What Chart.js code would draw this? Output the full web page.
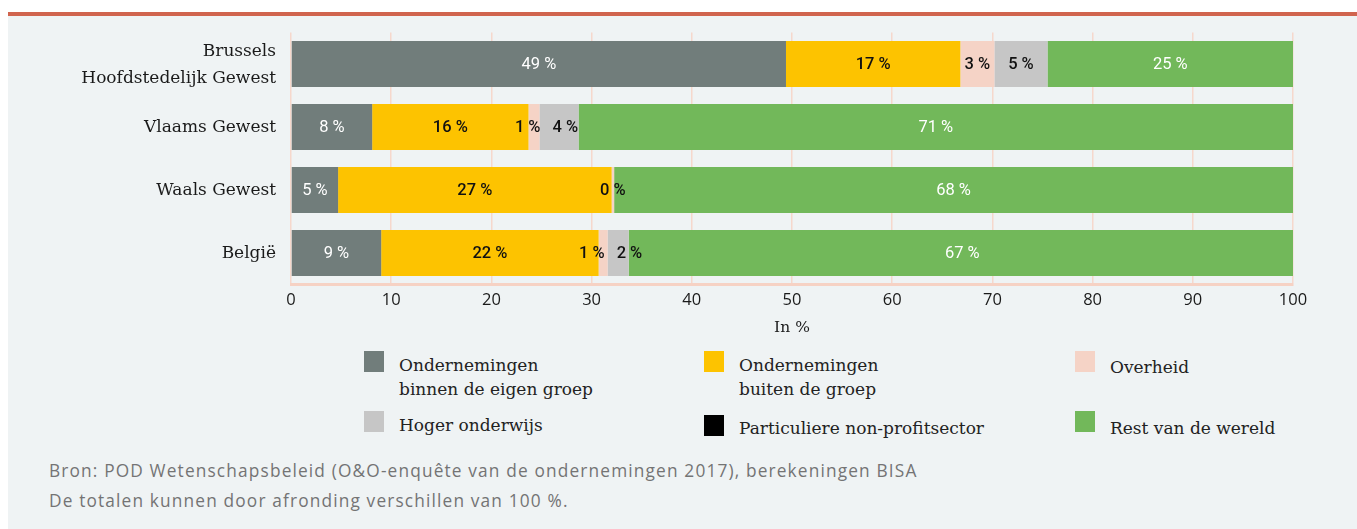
<!DOCTYPE html>
<html>
<head>
<meta charset="utf-8">
<script src="https://cdn.jsdelivr.net/npm/chart.js@4"></script>
<style>
  body { margin: 0; background: #fff; width: 1357px; height: 529px; overflow: hidden; position: relative; }
  #topline { position: absolute; left: 8px; top: 12px; width: 1349px; height: 4px; background: #d0644e; }
  #panel { position: absolute; left: 8px; top: 16px; width: 1349px; height: 513px; background: #eff3f4; }
  #chartBox { position: absolute; left: 8px; top: 0px; width: 1349px; height: 337px; }
  .legend-item { position: absolute; font-family: "DejaVu Serif", serif; font-size: 17px; color: #222; line-height: 24px; }
  .legend-box { position: absolute; width: 20px; height: 21px; }
  .source { position: absolute; left: 49px; font-family: "Open Sans", sans-serif; font-size: 17.3px; color: #747474; letter-spacing: 1.15px; }
</style>
</head>
<body>
<div id="topline"></div>
<div id="panel"></div>
<div id="chartBox"><canvas id="myChart"></canvas></div>
<div id="legend"></div>
<div class="source" style="top:459px">Bron: POD Wetenschapsbeleid (O&amp;O-enquête van de ondernemingen 2017), berekeningen BISA</div>
<div class="source" style="top:489px">De totalen kunnen door afronding verschillen van 100 %.</div>
<script>
const regions = [['Brussels', 'Hoofdstedelijk Gewest'], 'Vlaams Gewest', 'Waals Gewest', 'België'];

// shares per source of funding, in %
const binnenGroep = [49.4, 8.1, 4.7, 9.0];
const buitenGroep = [17.4, 15.6, 27.3, 21.7];
const overheid = [3.4, 1.1, 0.25, 0.9];
const hogerOnderwijs = [5.3, 3.9, 0, 2.1];
const nonProfit = [0, 0, 0, 0];
const restWereld = [24.5, 71.3, 67.75, 66.6];

const seriesNames = [
    ['Ondernemingen', 'binnen de eigen groep'],
    ['Ondernemingen', 'buiten de groep'],
    ['Overheid'],
    ['Hoger onderwijs'],
    ['Particuliere non-profitsector'],
    ['Rest van de wereld']
];
const seriesColors = ['#717d7b', '#fdc300', '#f5d3c6', '#c6c6c6', '#000000', '#72b85a'];
const labelColors = ['#ffffff', '#111111', '#111111', '#111111', '#ffffff', '#ffffff'];
const xTicks = [0, 10, 20, 30, 40, 50, 60, 70, 80, 90, 100];

document.addEventListener('DOMContentLoaded', function() {
    const ctx = document.getElementById('myChart').getContext('2d');
    const allData = [binnenGroep, buitenGroep, overheid, hogerOnderwijs, nonProfit, restWereld];

    // write the value of every segment in its middle, pushing crowded labels apart
    const segmentLabels = {
        id: 'segmentLabels',
        afterDatasetsDraw(chart) {
            const c = chart.ctx;
            c.save();
            c.textAlign = 'center';
            c.textBaseline = 'middle';
            regions.forEach(function(r, j) {
                const items = [];
                chart.data.datasets.forEach(function(ds, i) {
                    const v = ds.data[j];
                    if (!v) return;
                    const bar = chart.getDatasetMeta(i).data[j];
                    const txt = Math.round(v) + ' %';
                    c.font = (i === 0 || i === 5 ? '400' : '500') + ' 16.5px Roboto';
                    items.push({ i: i, txt: txt, x: (bar.x + bar.base) / 2, y: bar.y, w: c.measureText(txt).width, font: c.font });
                });
                for (let k = 1; k < items.length; k++) {
                    const a = items[k - 1], b = items[k];
                    const need = (a.w + b.w) / 2 + 12;
                    const gap = b.x - a.x;
                    if (gap < need) {
                        a.x -= (need - gap) / 2;
                        b.x += (need - gap) / 2;
                    }
                }
                items.forEach(function(it) {
                    c.font = it.font;
                    c.fillStyle = labelColors[it.i];
                    c.fillText(it.txt, it.x, it.y + 1);
                });
            });
            c.restore();
        }
    };

    new Chart(ctx, {
        type: 'bar',
        data: {
            labels: regions,
            datasets: allData.map(function(d, i) {
                return {
                    label: seriesNames[i].join(' '),
                    data: d,
                    backgroundColor: seriesColors[i],
                    borderWidth: 0,
                    barPercentage: 0.73,
                    categoryPercentage: 1
                };
            })
        },
        options: {
            indexAxis: 'y',
            responsive: true,
            maintainAspectRatio: false,
            animation: false,
            layout: { padding: { top: 32.5, right: 64, left: 0, bottom: 0 } },
            plugins: {
                legend: { display: false },
                tooltip: { enabled: false }
            },
            scales: {
                x: {
                    stacked: true,
                    min: 0,
                    max: 100,
                    afterBuildTicks: function(scale) {
                        scale.ticks = xTicks.map(function(v) { return { value: v }; });
                    },
                    afterFit: function(scale) { scale.height = 52.5; },
                    grid: { color: '#f6d8cc', lineWidth: 1.5, drawTicks: false },
                    border: { color: '#f6d2c4', width: 3 },
                    ticks: { color: '#1a1a1a', font: { family: 'Open Sans', size: 16.5 }, padding: 6 },
                    title: {
                        display: true,
                        text: 'In %',
                        color: '#1a1a1a',
                        font: { family: 'DejaVu Serif', size: 15.5 },
                        padding: { top: 2, bottom: 0 }
                    }
                },
                y: {
                    stacked: true,
                    afterFit: function(scale) { scale.width = 283; },
                    grid: { display: false },
                    border: { display: false },
                    ticks: { color: '#1a1a1a', font: { family: 'DejaVu Serif', size: 17, lineHeight: 1.6 }, padding: 7, labelOffset: 1 }
                }
            }
        },
        plugins: [segmentLabels]
    });

    // legend: three columns, two rows
    const legend = document.getElementById('legend');
    const colX = [364, 704, 1075];
    const rowY = [351, 411];
    seriesNames.forEach(function(name, i) {
        const col = i % 3, row = Math.floor(i / 3);
        const box = document.createElement('div');
        box.className = 'legend-box';
        box.style.left = colX[col] + 'px';
        box.style.top = (rowY[row] + (i === 4 ? 4 : 0)) + 'px';
        box.style.background = seriesColors[i];
        legend.appendChild(box);
        const txt = document.createElement('div');
        txt.className = 'legend-item';
        txt.style.left = (colX[col] + 35) + 'px';
        txt.style.top = (rowY[row] + 2 + (i === 2 ? 2 : 0) + (i >= 4 ? 3 : 0)) + 'px';
        txt.innerHTML = name.join('<br>');
        legend.appendChild(txt);
    });
});
</script>
</body>
</html>
